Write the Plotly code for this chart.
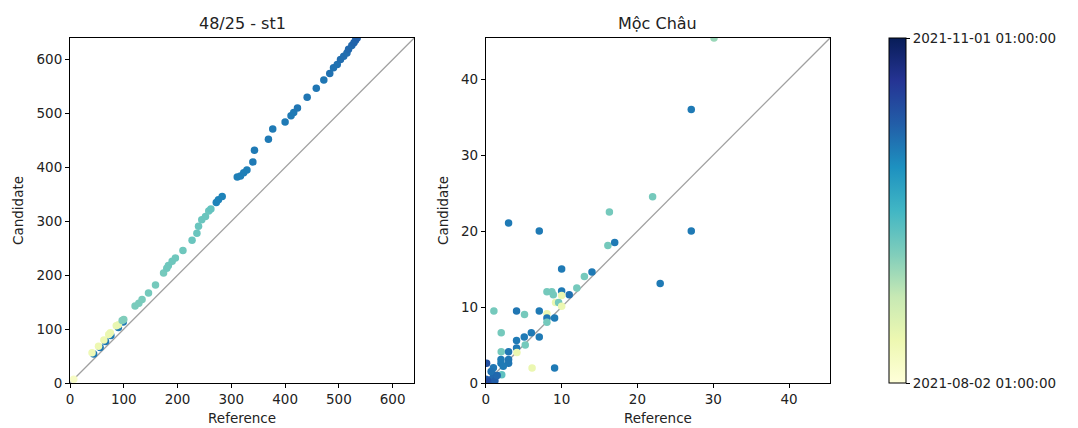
import plotly.graph_objects as go

# ---- data: station 48/25 - st1 ----
ref_st1 = [44, 56, 66, 76, 90, 99,
           7, 41, 53, 63, 72, 75, 86, 90, 97, 100, 121, 128, 134, 146, 159, 174, 180, 183, 190, 196,
           210, 227, 236, 239, 245, 252, 258, 262, 272, 276, 283, 311, 317, 323, 329, 340, 343, 369,
           377, 400, 411, 416, 423, 441, 458, 472, 483, 490, 497, 503, 509, 515, 518, 524, 528, 531, 534]
cand_st1 = [54, 66, 77, 88, 103, 113,
            7, 56, 68, 80, 90, 93, 106, 108, 116, 118, 143, 148, 155, 167, 182, 204, 213, 218, 226, 232,
            246, 265, 278, 291, 303, 309, 319, 323, 335, 340, 346, 382, 384, 390, 395, 410, 432, 452,
            471, 484, 496, 502, 510, 530, 547, 562, 574, 585, 591, 600, 606, 612, 619, 626, 631, 636, 640]
day_st1 = [62, 62, 62, 62, 62, 62,
           6, 10, 11, 11, 12, 12, 13, 13, 34, 34, 35, 35, 35, 36, 36, 36, 37, 37, 37, 37,
           37, 38, 38, 38, 38, 38, 38, 39, 60, 60, 60, 61, 61, 61, 61, 62, 62, 62,
           62, 62, 62, 62, 63, 63, 63, 63, 64, 64, 64, 65, 65, 65, 66, 66, 67, 67, 68]

# ---- data: Mộc Châu ----
ref_mc = [30.1, 27.1, 22.0, 16.3, 3.0, 7.05, 27.1, 16.1, 17.0, 10.0, 13.0, 14.0, 23.0, 12.0, 11.0, 10.0,
          8.06, 8.7, 8.9, 9.2, 9.6, 10.0, 10.0, 1.06, 4.05, 7.05, 5.1, 8.06, 8.06, 9.07, 8.06, 2.03, 6.0,
          5.07, 7.05, 4.05, 5.2, 4.05, 2.03, 4.1, 3.0, 2.0, 3.0, 3.0, 2.0, 2.3, 6.1, 9.07, 0.1, 1.0, 2.1,
          1.0, 0.0, 0.5, 1.0, 0.3, 0.0, 1.2, 0.7, 1.5]
cand_mc = [45.4, 36.0, 24.5, 22.5, 21.05, 20.0, 20.0, 18.1, 18.5, 15.0, 14.0, 14.6, 13.1, 12.5, 11.6, 12.1,
           12.0, 12.0, 11.6, 10.6, 10.6, 10.1, 11.5, 9.47, 9.47, 9.47, 9.0, 9.1, 8.55, 8.55, 8.0, 6.6, 6.6,
           6.05, 6.05, 5.6, 5.0, 4.6, 4.1, 4.0, 4.1, 3.1, 3.1, 2.6, 2.6, 2.2, 1.97, 1.97, 2.6, 2.0, 1.1,
           1.1, 0.5, 0.4, 0.7, 0.2, 0.0, 0.3, 1.5, 1.0]
day_mc = [30, 62, 36, 36, 62, 62, 62, 36, 62, 62, 36, 62, 62, 36, 64, 62,
          36, 36, 36, 12, 36, 12, 12, 36, 63, 62, 36, 12, 62, 62, 36, 36, 62,
          62, 62, 62, 36, 62, 36, 12, 63, 62, 63, 63, 62, 62, 12, 62, 72, 63, 40,
          64, 68, 70, 66, 72, 74, 68, 64, 66]

lim_st1 = 640
lim_mc = 45.4
cbar_days = [0, 91]
cbar_labels = ["2021-08-02 01:00:00", "2021-11-01 01:00:00"]
titles = ["48/25 - st1", "Mộc Châu"]

OFF = 8  # page body margin in the browser
W, H = 1078 - OFF, 428 - OFF
font = "DejaVu Sans"
ylgnbu = [[0.0, "#ffffd9"], [0.125, "#edf8b1"], [0.25, "#c7e9b4"], [0.375, "#7fcdbb"],
          [0.5, "#41b6c4"], [0.625, "#1d91c0"], [0.75, "#225ea8"], [0.875, "#253494"], [1.0, "#081d58"]]

# plot-area pixel geometry (window pixels)
L, R, T, B = 69.7, 830.0, 38.3, 383.3
PW = R - L
fx = lambda p: (p - L) / PW          # window pixel -> paper x

fig = go.Figure()

fig.add_trace(go.Scatter(x=[0, lim_st1], y=[0, lim_st1], mode="lines",
                         line=dict(color="#a0a0a0", width=1.3), xaxis="x", yaxis="y", showlegend=False))
fig.add_trace(go.Scatter(x=[0, lim_mc], y=[0, lim_mc], mode="lines",
                         line=dict(color="#a0a0a0", width=1.3), xaxis="x2", yaxis="y2", showlegend=False))

fig.add_trace(go.Scatter(x=ref_st1, y=cand_st1, mode="markers", xaxis="x", yaxis="y",
                         marker=dict(size=7.5, color=day_st1, coloraxis="coloraxis", line=dict(width=0)),
                         showlegend=False))
fig.add_trace(go.Scatter(x=ref_mc, y=cand_mc, mode="markers", xaxis="x2", yaxis="y2",
                         marker=dict(size=7.5, color=day_mc, coloraxis="coloraxis", line=dict(width=0)),
                         showlegend=False))

axis_common = dict(showgrid=False, zeroline=False, showline=True, linecolor="black", linewidth=1,
                   mirror=True, ticks="outside", ticklen=4, tickwidth=1, tickcolor="black",
                   automargin=False, tickfont=dict(family=font, size=13.5, color="#222"))
xt = dict(text="Reference", standoff=7, font=dict(family=font, size=13.5, color="#222"))
yt = dict(text="Candidate", standoff=9, font=dict(family=font, size=13.5, color="#222"))

fig.update_layout(
    width=W, height=H,
    margin=dict(l=L - OFF, r=(1078 - R), t=T - OFF, b=(428 - B), pad=0),
    paper_bgcolor="white", plot_bgcolor="white",
    font=dict(family=font, size=13.5, color="#222"),
    xaxis=dict(domain=[0, fx(414)], range=[0, lim_st1], tickvals=[0, 100, 200, 300, 400, 500, 600],
               title=xt, **axis_common),
    yaxis=dict(domain=[0, 1], range=[0, lim_st1], tickvals=[0, 100, 200, 300, 400, 500, 600],
               title=yt, **axis_common),
    xaxis2=dict(domain=[fx(485.7), 1], range=[0, lim_mc], tickvals=[0, 10, 20, 30, 40], anchor="y2",
                title=xt, **axis_common),
    yaxis2=dict(domain=[0, 1], range=[0, lim_mc], tickvals=[0, 10, 20, 30, 40], anchor="x2",
                title=yt, **axis_common),
    coloraxis=dict(
        colorscale=ylgnbu, cmin=cbar_days[0], cmax=cbar_days[1],
        colorbar=dict(
            x=fx(889.3), xanchor="left", y=0, yanchor="bottom",
            len=1, lenmode="fraction", thickness=17, thicknessmode="pixels",
            outlinewidth=1, outlinecolor="black", xpad=0, ypad=0,
            tickvals=cbar_days, ticktext=cbar_labels, ticks="outside", ticklen=4, tickcolor="black",
            tickfont=dict(family=font, size=13.5, color="#222"),
        ),
    ),
    annotations=[
        dict(text=titles[0], x=fx((69.7 + 414) / 2), y=1, xref="paper", yref="paper", yshift=3,
             xanchor="center", yanchor="bottom", showarrow=False, font=dict(family=font, size=16, color="#222")),
        dict(text=titles[1], x=fx((485.7 + 830) / 2), y=1, xref="paper", yref="paper", yshift=3,
             xanchor="center", yanchor="bottom", showarrow=False, font=dict(family=font, size=16, color="#222")),
    ],
)

fig.write_html("out.html")
